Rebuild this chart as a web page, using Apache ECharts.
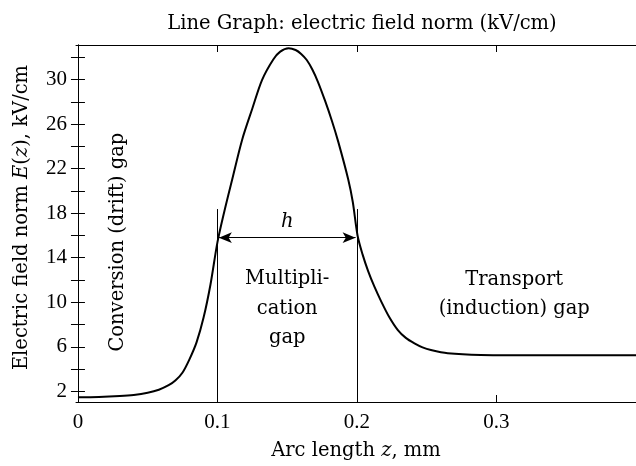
<!DOCTYPE html>
<html>
<head>
<meta charset="utf-8">
<script src="https://cdn.jsdelivr.net/npm/echarts@6/dist/echarts.min.js"></script>
<style>
html,body{margin:0;padding:0;background:#fff;}
#c{width:636px;height:466px;}
</style>
</head>
<body>
<div id="c"></div>
<script>
// Arc length z (mm)
var zValues = [0.000, 0.015, 0.030, 0.040, 0.050, 0.058, 0.065, 0.070, 0.075, 0.080, 0.085, 0.090, 0.095, 0.100, 0.105, 0.1106, 0.1177, 0.125, 0.132, 0.140, 0.145, 0.151, 0.156, 0.160, 0.164, 0.168, 0.172, 0.1771, 0.182, 0.1866, 0.1937, 0.197, 0.2004, 0.204, 0.208, 0.2125, 0.2175, 0.223, 0.2293, 0.235, 0.2412, 0.247, 0.253, 0.265, 0.2887, 0.320, 0.360, 0.400];
// Electric field norm E(z), kV/cm
var eValues = [1.48, 1.50, 1.58, 1.68, 1.88, 2.15, 2.55, 3.00, 3.70, 4.90, 6.40, 8.60, 11.6, 15.4, 18.2, 21.05, 24.6, 27.4, 29.97, 31.8, 32.5, 32.8, 32.65, 32.3, 31.75, 30.9, 29.8, 28.1, 26.3, 24.4, 21.05, 19.0, 16.0, 14.3, 12.8, 11.4, 10.04, 8.7, 7.5, 6.8, 6.31, 5.95, 5.71, 5.42, 5.27, 5.25, 5.25, 5.25];

var yTicks = [2, 4, 6, 8, 10, 12, 14, 16, 18, 20, 22, 24, 26, 28, 30, 32];
var yTickLabels = [2, 6, 10, 14, 18, 22, 26, 30];
var xTicks = [0, 0.1, 0.2, 0.3];
var xTickLabels = [0, 0.1, 0.2, 0.3];

var xMin = -0.0014, xMax = 0.4, yMin = 1.045, yMax = 33.1;

// gap boundaries and annotation
var gapBounds = [0.1, 0.2];
var gapLineTop = 18.37;
var arrowLevel = 15.8;
var annotations = [
  {name: 'h', value: [0.15, 17.2]},
  {name: 'Multipli-\ncation\ngap', value: [0.15, 9.44]},
  {name: 'Transport\n(induction) gap', value: [0.3127, 10.69]},
  {name: 'Conversion (drift) gap', value: [0.0287, 15.4]}
];

var FONT = '"DejaVu Serif", "Liberation Serif", serif';
var NUMFONT = '"Liberation Serif", "DejaVu Serif", serif';
var FS = 19.5;
var curve = zValues.map(function (z, i) { return [z, eValues[i]]; });

var chart = echarts.init(document.getElementById('c'), null, {renderer: 'canvas'});
var axisCommon = {
  axisLine: {show: true, lineStyle: {color: '#000', width: 1}},
  splitLine: {show: false}
};
chart.setOption({
  animation: false,
  backgroundColor: '#fff',
  title: {
    text: 'Line Graph: electric field norm (kV/cm)',
    left: 357, top: 9, textAlign: 'center',
    textStyle: {fontFamily: FONT, fontSize: FS, fontWeight: 'normal', color: '#000'}
  },
  grid: {left: 76, right: -4, top: 45, bottom: 62},
  xAxis: [
    Object.assign({
      type: 'value', position: 'bottom', min: xMin, max: xMax,
      axisTick: {show: true, inside: true, length: 7, customValues: xTicks, lineStyle: {color: '#000'}},
      axisLabel: {show: true, customValues: xTickLabels, margin: 10, color: '#000', fontFamily: NUMFONT, fontSize: 21,
        formatter: function (v) { return v === 0 ? '0' : String(Math.round(v * 10) / 10); }},
      name: '{n|Arc length }{i|z}{n|, mm}', nameLocation: 'middle', nameGap: 39,
      nameTextStyle: {rich: {n: {fontFamily: FONT, fontSize: FS, color: '#000'}, i: {fontFamily: FONT, fontSize: FS, fontStyle: 'italic', color: '#000'}}}
    }, axisCommon),
    Object.assign({
      type: 'value', position: 'top', min: xMin, max: xMax,
      axisTick: {show: true, inside: true, length: 7, customValues: xTicks, lineStyle: {color: '#000'}},
      axisLabel: {show: false}
    }, axisCommon)
  ],
  yAxis: [
    Object.assign({
      type: 'value', position: 'left', min: yMin, max: yMax,
      axisTick: {show: true, inside: true, length: 7, customValues: yTicks, lineStyle: {color: '#000'}},
      axisLabel: {show: true, customValues: yTickLabels, margin: 9, color: '#000', fontFamily: NUMFONT, fontSize: 21},
      name: '{n|Electric field norm }{i|E}{n|(}{i|z}{n|), kV/cm}', nameLocation: 'middle', nameGap: 44, nameRotate: 90,
      nameTextStyle: {padding: [0, 0, 0, 12], rich: {n: {fontFamily: FONT, fontSize: FS, color: '#000'}, i: {fontFamily: FONT, fontSize: FS, fontStyle: 'italic', color: '#000'}}}
    }, axisCommon),
    Object.assign({
      type: 'value', position: 'right', min: yMin, max: yMax,
      axisTick: {show: true, inside: true, length: 7, customValues: yTicks, lineStyle: {color: '#000'}},
      axisLabel: {show: false}
    }, axisCommon)
  ],
  series: [
    {
      type: 'line', name: 'E', data: curve, showSymbol: false, symbol: 'none',
      smooth: 0.3,
      lineStyle: {color: '#000', width: 2}, silent: true, z: 3
    },
    {
      type: 'line', name: 'markers', data: [], silent: true,
      markLine: {
        silent: true, animation: false, symbol: ['none', 'none'],
        label: {show: false},
        lineStyle: {color: '#000', width: 1, type: 'solid'},
        data: gapBounds.map(function (b) { return [{coord: [b, yMin]}, {coord: [b, gapLineTop]}]; })
      }
    },
    {
      type: 'line', name: 'arrow', data: [], silent: true,
      markLine: {
        silent: true, animation: false, symbol: ['arrow', 'arrow'], symbolSize: [8, 13],
        label: {show: false},
        lineStyle: {color: '#000', width: 1.2, type: 'solid'},
        itemStyle: {color: '#000'},
        data: [[{coord: [gapBounds[0] + 0.001, arrowLevel]}, {coord: [gapBounds[1] - 0.001, arrowLevel]}]]
      }
    },
    {
      type: 'scatter', name: 'text', symbolSize: 0, silent: true,
      itemStyle: {color: '#000', opacity: 1},
      data: annotations.map(function (a) {
        var lbl = {show: true, position: 'inside', align: 'center', verticalAlign: 'middle',
          formatter: a.name, color: '#000', fontFamily: FONT, fontSize: FS, lineHeight: 29.5,
          textBorderWidth: 0, textShadowBlur: 0, opacity: 1};
        if (a.name === 'h') { lbl.fontStyle = 'italic'; }
        if (a.name.indexOf('Conversion') === 0) { lbl.rotate = 90; }
        return {value: a.value, label: lbl};
      })
    }
  ]
});
</script>
</body>
</html>
